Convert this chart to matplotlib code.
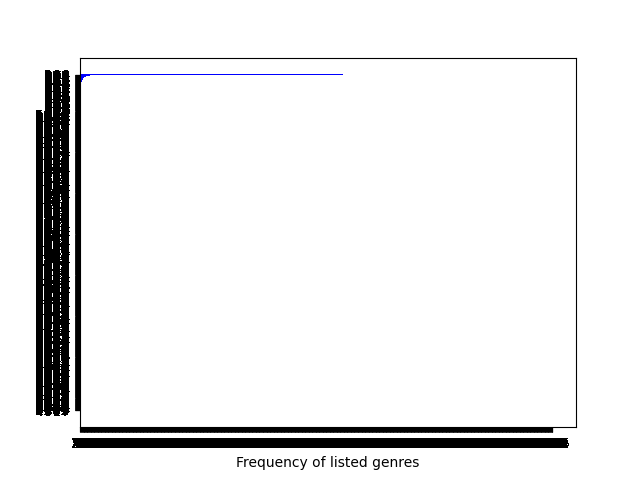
import matplotlib
matplotlib.use("Agg")
import matplotlib.pyplot as plt

# y tick labels (bottom -> top): 4-digit labels, 3-digit ones at the top
y_labels = """
4817 2950 7362 1594 8036 5721 3409 9685 6173 2248
7093 3518 9264 5837 1402 6985 2751 8320 4679 3146
5286 9041 1739 6458 3924 7610 8597 2063 4385 1872
8630 2794 6108 3571 9856 1247 5932 7415 2680 6019
3954 7362 4817 8290 5143 2609 9738 1586 6071 3425
6702 1835 8491 2967 7318 4056 1683 9240 3597 5814
2469 5183 3726 9014 4651 8372 6805 2139 7948 1560
9175 4628 2053 7396 1847 5910 3264 8702 5439 6381
1348 8906 5617 4782 2095 6431 7158 3870 9523 4206
5891 3270 9645 1308 6719 2584 4936 7051 1862 8437
7526 6043 1398 8751 3267 9805 2614 5179 4390 2958
4103 9587 7230 2846 5972 1369 8047 6523 3715 7680
6837 2419 4956 7063 1528 8794 5301 9246 2670 5192
3260 7854 8179 5402 9631 3087 6925 1748 8514 4367
8594 1726 3851 9367 4280 7513 1098 5632 7945 2071
2715 6348 6092 3189 8457 5936 9270 4801 1623 9854
9428 3671 1705 6924 2816 4259 7583 3046 5397 6130
1973 8205 9461 4538 7094 2670 3852 6317 8749 3586
6385 4912 2837 8170 5629 9341 1406 7958 4283 1749
4029 7658 5314 1795 3968 6482 8137 2590 9601 7325
8752 2396 7680 6043 1375 3918 5249 9164 2837 4601
3146 9573 4928 2851 8607 7094 1362 4785 6219 9038
5607 1284 8153 9476 4932 1725 6890 3517 7064 2493
2831 6049 3596 5720 9148 8367 4215 7902 1685 5374
9364 4817 6205 1938 2751 5603 7489 1246 3972 8150
1590 7362 9841 4075 6283 2917 3654 8439 5106 6728
7218 3905 1472 8693 3540 9186 5027 2761 8395 1864
4953 8621 5087 3216 7869 4352 9710 6184 2437 3095
6079 2458 7314 9562 1806 6749 2183 5928 4651 7302
3482 5196 2650 7804 5327 1068 8946 4371 9213 2587
8615 1743 9028 4397 6952 3571 1409 7650 3876 5123
2147 6380 4761 1529 8014 7295 5863 2938 6402 9756
5730 9254 1896 6183 3467 2809 4532 9075 1648 4391
9286 3517 7432 2658 5701 8946 6120 3894 7569 1037
1459 8062 3975 5314 9286 4137 7853 1602 5290 6748
7803 4196 6240 8971 2635 5382 9014 6457 2183 3569
4312 7685 8597 3046 7159 1620 3748 8291 9834 5203
6954 2831 2169 9482 4073 6795 1536 5920 3417 8062
3097 5478 5340 1763 8926 3251 6089 4713 7685 2914
8641 1209 9873 6415 3152 7486 2367 9548 1026 4785
2378 6594 1426 4837 6590 9063 8172 3605 5941 7230
5120 9763 7051 2698 1847 4518 5934 7286 8359 1694
9857 3042 4689 7310 5264 2147 3805 1932 6470 3518
1683 7915 6234 5972 9308 8650 7491 5064 2817 6349
7436 4380 3791 8205 2649 1974 4526 8357 9183 2075
3728 9150 6483 2917 5306 8642 1079 4835 7261 9504
6041 2387 8915 4762 9230 1586 7403 3159 5827 2694
8362 5709 2146 7593 4081 6924 3857 9210 1475 7038
1597 4823 7360 9041 2758 3196 6482 5734 8009 4621
9203 6158 3479 5820 8647 7315 2061 1398 4752 6986
4536 1972 5804 3167 6419 9583 8725 2640 7391 1058
7815 3046 9627 8354 1973 2408 5169 6782 3520 8497
2079 8531 1263 6498 5702 4837 9314 7956 6183 3240
5648 7203 4791 1925 3186 6059 2437 8613 9874 5362
3910 9465 6038 7252 8574 1693 4806 2371 5149 7826
6174 2598 8306 4719 1847 5362 7925 9480 2053 4631
8429 4716 2853 9061 7394 3275 1548 6190 4637 9802
1356 6829 9472 3584 2605 8917 6031 3748 7210 5163
4793 3105 5641 8926 6138 2450 9827 5364 1582 6079
7261 8940 3187 2605 9452 6713 4390 1827 8946 2534
2985 5374 7016 6839 4127 9508 3642 8291 3765 1480
9640 1628 4359 5173 8290 7861 5206 4975 6318 3792
5182 7493 6920 1346 3518 4079 8635 7102 2459 8267
3507 4861 1734 7982 5061 2394 6158 9423 8790 4615
8816 2039 9265 4510 7843 6127 1970 3586 5304 7948
1438 6752 5093 8267 2619 9485 7324 6801 4176 2359
6259 9184 2746 3908 4372 5610 3857 1049 9623 8531
4960 3517 8438 6125 9784 1203 5492 2678 7351 6087
7693 8245 1571 9842 6027 3768 4109 5354 2816 9430
2304 5629 6187 2453 1895 7034 9761 8240 3678 1592
9571 1076 3829 5796 8341 4952 2618 6435 5087 4263
5826 4398 7452 1039 3570 8617 6293 9184 1765 7308
3142 7960 4605 8371 7916 2548 1487 3729 6054 5896
8489 2613 9936 4628 5253 6109 7845 2061 9307 3714
1763 8054 2218 7596 9402 3871 5326 4650 2983 6145
6937 3481 5364 2807 1689 9725 8052 7193 4516 2670
4215 9736 8091 6154 3627 1480 2973 5318 8649 9027
7058 1327 1746 3985 8164 5239 6401 9872 3295 4581
2631 6802 4573 9410 5928 7062 3154 1697 7480 8316
9374 4159 6810 1243 2796 4385 8927 6539 1052 5768
5490 8673 3925 7681 6035 1758 4216 2904 9367 3142
3826 2514 9157 5376 4819 6903 1582 7460 5713 8295
8105 7946 2384 4059 9571 3246 7639 4128 6895 1407
1952 3268 5601 8734 1407 8591 9365 5872 2146 6930
6547 9015 8273 3912 7254 2687 5038 8391 4729 1368
4381 5740 1498 6025 3686 9123 2751 1564 8302 7849
7620 1382 6039 2857 8943 5470 6185 3706 9514 4253
2094 6827 3765 9168 5329 4816 8472 9035 1687 5901
529 184 736 302 958 647 213 875 491 368
846 273 619 954 127 582 398 761 435 209
482 157 936 704 259 813 690 345 128 571
263 948 315 872 596 431 107 684 759 820
615 392 740 289 163 957 526 818 401 736
347 869 152 593 928 274 681 405 837 196
574 216 493 751 382 609 945 137 860 228
917 364 528 183 746 295 873 412 659 305
438 791 265 946 517 382 139 708 624 953
856 127 693 374 908 541 216 879 345 762
192 635 847 519 273 864 458 926 781 147
761 503 384 827 645 118 972 563 209 894
""".split()

# bar lengths of the top bars (bottom -> top); all lower bars are empty
top_widths = [2, 2, 2, 5, 5, 5, 5, 5, 5, 7, 7, 7, 7, 7, 7,
              9, 9, 9, 14, 14, 14, 23, 23, 23, 601]
widths = [0] * (len(y_labels) - len(top_widths)) + top_widths

# x tick labels (frequencies)
x_labels = """
27 53 81 16 94 38 62 45 79 12
68 24 97 51 36 83 19 72 40 65
33 86 58 14 91 47 75 29 60 18
82 41 69 25 93 57 34 76 11 88
46 70 23 95 61 37 84 52 15 99
74 31 56 89 20 67 43 98 26 59
35 72 18 64 91 27 56 83 49 13
87 42 69 21 58 94 37 15 76 62
24 96 53 38 71 19 85 47 66 32
78 15 44 92 29 63 57 81 36 97
51 88 26 73 45 12 99 68 34 80
63 39 84 17 52 75 28 91 43 66
137 582 904 261 748 315 679 420 853 196
627 943 218 576 381 702 459 864 135 290
481 326 765 193 840 517 962 274 638 409
906 154 387 621 293 845 176 538 712 469
352 718 493 860 127 396 631 205 974 583
769 245 918 437 652 180 824 391 546 713
214 896 361 759 504 238 687 943 172 825
538 107 642 385 916 471 259 806 633 194
875 463 129 948 271 695 342 517 780 356
146 789 574 213 863 527 918 465 301 672
693 312 857 406 184 739 566 128 947 285
427 651 283 917 548 162 407 789 235 814
958 234 716 582 396 821 143 672 459 537
315 870 429 163 725 958 386 241 694 108
782 549 136 804 437 216 793 365 928 651
261 907 658 341 982 573 124 890 417 736
539 183 924 675 218 406 857 512 763 349
874 426 591 238 769 142 695 937 384 205
107 658 372 819 453 924 261 748 536 891
645 391 846 127 574 685 932 413 279 758
392 714 263 958 831 357 479 186 605 923
916 285 739 462 147 893 528 674 351 416
253 846 514 791 362 638 905 247 789 184
784 129 685 343 926 571 136 852 417 693
273 846 519 932 185 607 354 781 426 968
815 392 674 148 753 926 281 537 864 419
562 738 231 895 416 183 749 962 305 674
394 157 863 426 972 548 617 139 758 283
928 673 145 789 354 816 492 265 631 507
641 219 987 352 803 274 568 913 147 836
186 945 372 614 529 761 835 408 293 652
759 328 614 287 946 395 172 683 524 971
437 861 293 548 167 932 658 214 879 316
983 512 746 831 295 468 327 956 172 645
215 684 938 173 682 547 893 341 765 428
674 293 457 926 438 185 716 589 342 897
348 957 126 765 891 632 274 153 986 513
826 435 789 314 257 973 541 862 413 269
592 178 364 853 649 216 985 437 658 731
163 749 825 492 318 857 613 296 874 145
947 386 571 238 764 429 158 675 931 582
481 623 197 675 923 784 346 819 265 378
728 164 852 319 576 143 892 534 617 926
315 897 436 984 132 658 273 746 389 154
869 241 673 527 486 391 945 128 752 683
254 736 918 162 893 527 481 675 236 849
637 482 259 746 315 968 724 391 548 172
196 853 347 681 749 235 569 872 413 927
4816 2953 7361 1598 8034 5720 3407 9682 6175 2249
7091 3516 9268 5830 1409 6982 2753 8321 4670 3147
5284 9046 1732 6451 3927 7614 8590 2068 4383 1876
8635 2797 6102 3579 9853 1240 5938 7412 2684 6013
3958 7365 4810 8293 5147 2601 9736 1584 6079 3422
6706 1839 8493 2960 7312 4058 1687 9241 3593 5817
2463 5187 3720 9017 4659 8374 6808 2135 7941 1568
9172 4623 2057 7391 1849 5916 3262 8709 5430 6388
1340 8901 5614 4785 2093 6437 7152 3876 9520 4208
5893 3275 9641 1306 6712 2589 4930 7057 1865 8432
7528 6047 1393 8756 3260 9807 2618 5174 4395 2950
4107 9580 7235 2849 5971 1362 8043 6527 3718 7683
6830 2414 4953 7068 1526 8797 5309 9243 2671 5196
3265 7852 8176 5408 9630 3085 6929 1746 8512 4360
8597 1720 3858 9362 4286 7517 1093 5639 7940 2076
2713 6341 6095 3184 8452 5939 9273 4806 1628 9850
9426 3677 1708 6921 2819 4251 7586 3042 5398 6134
1978 8209 9467 4531 7096 2675 3850 6313 8740 3581
6380 4917 2830 8175 5622 9343 1404 7954 4286 1740
4023 7650 5317 1798 3962 6484 8139 2597 9603 7328
8750 2391 7684 6048 1372 3914 5246 9160 2831 4609
3149 9576 4925 2857 8603 7095 1368 4780 6216 9031
5609 1283 8156 9474 4938 1723 6897 3510 7062 2498
2835 6042 3594 5729 9140 8364 4217 7905 1680 5373
3729 9154 6487 2913 5302 8645 1078 4831 7266 9509
6043 2381 8917 4768 9235 1584 7402 3156 5829 2690
8364 5703 2147 7598 4086 6921 3853 9217 1472 7035
1593 4826 7368 9045 2751 3198 6487 5731 8006 4625
9208 6153 3471 5829 8641 7312 2068 1395 4759 6982
4539 1976 5801 3162 6418 9587 8720 2643 7398 1054
7812 3049 9624 8357 1976 2405 5164 6788 3523 8491
2073 8535 1269 6493 5708 4832 9317 7950 6184 3246
5641 7209 4796 1920 3184 6053 2431 8619 9872 5367
3915 9461 6034 7258 8570 1697 4802 2376 5143 7829
6178 2593 8307 4715 1842 5368 7923 9486 2059 4637
8423 4719 2857 9064 7398 3271 1540 6193 4639 9806
1350 6824 9478 3589 2603 8914 6037 3745 7216 5168
4798 3109 5645 8920 6132 2457 9823 5369 1586 6074
7267 8946 3183 2609 9457 6710 4394 1820 8942 2538
2981 5376 7013 6832 4125 9504 3647 8290 3768 1486
9645 1623 4357 5179 8294 7863 5201 4978 6312 3797
5187 7495 6926 1340 3512 4074 8631 7105 2453 8262
3503 4867 1738 7985 5067 2390 6154 9428 8793 4612
8819 2034 9260 4517 7846 6123 1975 3581 5307 7942
1435 6758 5096 8260 2614 9482 7329 6806 4173 2354
6254 9189 2743 3903 4378 5615 3850 1046 9627 8536
4963 3512 8434 6128 9780 1206 5497 2673 7354 6081
7698 8241 1576 9847 6021 3763 4106 5358 2812 9435
""".split()

fig, ax = plt.subplots(figsize=(6.4, 4.8), dpi=100)
ypos = list(range(len(y_labels)))
ax.barh(ypos, widths, color="blue")
ax.set_yticks(ypos)
ax.set_yticklabels(y_labels)
ax.set_xticks(list(range(len(x_labels))))
ax.set_xticklabels(x_labels)
ax.set_xlim(0, (len(x_labels) - 1) * 1.05)
ax.set_xlabel("Frequency of listed genres")
for lab in ax.get_xticklabels() + ax.get_yticklabels():
    lab.set_antialiased(False)
fig.savefig("out.png", dpi=100)
